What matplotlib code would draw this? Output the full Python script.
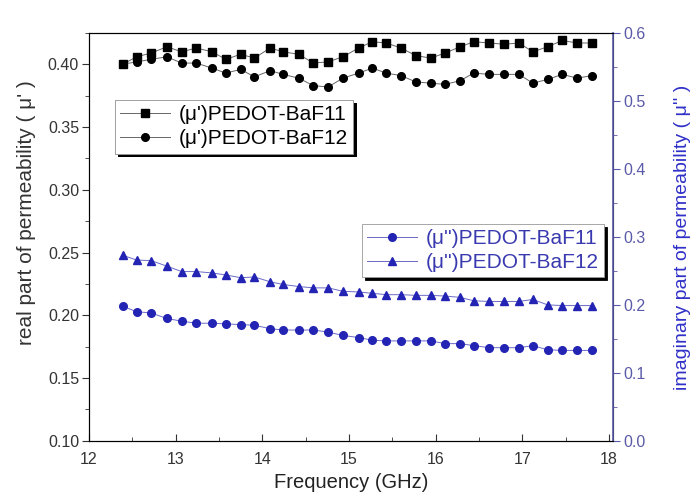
import matplotlib
matplotlib.use('Agg')
import matplotlib.pyplot as plt
from matplotlib.ticker import MultipleLocator, FormatStrFormatter

plt.rcParams['font.family'] = ['Liberation Sans', 'DejaVu Sans']

# frequency grid (GHz)
freq = [12.39, 12.55, 12.72, 12.90, 13.07, 13.24, 13.42, 13.58, 13.75, 13.91,
        14.09, 14.24, 14.42, 14.59, 14.76, 14.93, 15.11, 15.27, 15.43, 15.60,
        15.77, 15.94, 16.11, 16.28, 16.44, 16.62, 16.79, 16.96, 17.12, 17.29,
        17.46, 17.63, 17.80]

# real part (left axis)
re_baf11 = [0.400, 0.406, 0.409, 0.414, 0.410, 0.413, 0.410, 0.404, 0.408, 0.405,
            0.413, 0.410, 0.408, 0.401, 0.402, 0.406, 0.413, 0.418, 0.417, 0.413,
            0.407, 0.405, 0.409, 0.414, 0.418, 0.417, 0.416, 0.417, 0.410, 0.414,
            0.419, 0.417, 0.417]
re_baf12 = [0.400, 0.402, 0.404, 0.406, 0.401, 0.401, 0.397, 0.393, 0.396, 0.390,
            0.395, 0.392, 0.389, 0.383, 0.382, 0.389, 0.393, 0.397, 0.393, 0.391,
            0.386, 0.385, 0.384, 0.387, 0.393, 0.392, 0.392, 0.392, 0.385, 0.388,
            0.392, 0.389, 0.391]

# imaginary part (right axis)
im_baf11 = [0.198, 0.190, 0.188, 0.180, 0.176, 0.173, 0.173, 0.172, 0.171, 0.170,
            0.165, 0.163, 0.163, 0.163, 0.160, 0.155, 0.152, 0.148, 0.147, 0.147,
            0.147, 0.147, 0.143, 0.143, 0.140, 0.137, 0.137, 0.137, 0.140, 0.134,
            0.133, 0.133, 0.133]
im_baf12 = [0.273, 0.266, 0.265, 0.257, 0.249, 0.249, 0.247, 0.244, 0.240, 0.241,
            0.234, 0.230, 0.227, 0.225, 0.225, 0.220, 0.219, 0.217, 0.215, 0.215,
            0.214, 0.214, 0.213, 0.211, 0.206, 0.205, 0.205, 0.205, 0.208, 0.200,
            0.199, 0.199, 0.199]

blue = '#2323b4'
axblue = '#5a5aa8'

fig = plt.figure(figsize=(6.94, 4.92), dpi=100)
ax = fig.add_axes([0.128, 0.104, 0.756, 0.829])
ax2 = ax.twinx()

l1, = ax.plot(freq, re_baf11, '-s', color='#666666', lw=0.7, ms=5.5,
              mfc='black', mec='black', label="(\u03bc')PEDOT-BaF11")
l2, = ax.plot(freq, re_baf12, '-o', color='#666666', lw=0.7, ms=5.5,
              mfc='black', mec='black', label="(\u03bc')PEDOT-BaF12")
l3, = ax2.plot(freq, im_baf11, '-o', color='#6a6ac8', lw=0.7, ms=5.5,
               mfc=blue, mec=blue, label="(\u03bc'')PEDOT-BaF11")
l4, = ax2.plot(freq, im_baf12, '-^', color='#6a6ac8', lw=0.7, ms=5.5,
               mfc=blue, mec=blue, label="(\u03bc'')PEDOT-BaF12")

ax.set_xlim(12, 18.05)
ax.set_ylim(0.10, 0.425)
ax2.set_ylim(0.0, 0.6)

ax.xaxis.set_major_locator(MultipleLocator(1))
ax.xaxis.set_minor_locator(MultipleLocator(0.5))
ax.yaxis.set_major_locator(MultipleLocator(0.05))
ax.yaxis.set_minor_locator(MultipleLocator(0.025))
ax2.yaxis.set_major_locator(MultipleLocator(0.1))
ax2.yaxis.set_minor_locator(MultipleLocator(0.05))
ax.yaxis.set_major_formatter(FormatStrFormatter('%.2f'))
ax2.yaxis.set_major_formatter(FormatStrFormatter('%.1f'))

ax.tick_params(axis='x', direction='in', which='both', labelsize=11.5,
               colors='#333333', pad=8)
ax.tick_params(axis='x', which='major', length=5)
ax.tick_params(axis='x', which='minor', length=3)
ax.tick_params(axis='y', direction='out', which='both', labelsize=11.5,
               colors='#333333', pad=2)
ax.tick_params(axis='y', which='major', length=5)
ax.tick_params(axis='y', which='minor', length=3)
ax2.tick_params(axis='y', direction='out', which='both', labelsize=11.5,
                colors=axblue, pad=2)
ax2.tick_params(axis='y', which='major', length=5)
ax2.tick_params(axis='y', which='minor', length=3)

for s in ['left', 'bottom', 'top']:
    ax.spines[s].set_color('#222222')
ax2.spines['right'].set_color(axblue)
ax2.spines['right'].set_linewidth(1.2)

ax.set_xlabel('Frequency (GHz)', fontsize=14.5, color='#222222')
ax.xaxis.set_label_coords(0.5, -0.08)
ax.set_ylabel("real part of permeability ( \u03bc' )", fontsize=15, color='#333333')
ax.yaxis.set_label_coords(-0.1, 0.56)
ax2.set_ylabel("imaginary part of permeability ( \u03bc'' )", fontsize=14,
               color='#3030c8')
ax2.yaxis.set_label_coords(1.115, 0.5)

shadow = {'color': 'black', 'alpha': 1.0}
leg1 = ax.legend(handles=[l1, l2], loc='upper left', bbox_to_anchor=(0.166, 0.797),
                 bbox_transform=fig.transFigure, borderaxespad=0,
                 fontsize=15, frameon=True, fancybox=False, shadow=shadow,
                 framealpha=1, edgecolor='#999999', handlelength=2.4,
                 labelspacing=0.25, borderpad=0.25, handletextpad=0.4)
leg1.get_frame().set_linewidth(0.6)
ax.add_artist(leg1)

leg2 = ax2.legend(handles=[l3, l4], loc='upper left', bbox_to_anchor=(0.522, 0.545),
                  bbox_transform=fig.transFigure, borderaxespad=0,
                  fontsize=15, frameon=True, fancybox=False, shadow=shadow,
                  framealpha=1, edgecolor='#999999', handlelength=2.4,
                  labelspacing=0.25, borderpad=0.25, handletextpad=0.4)
leg2.get_frame().set_linewidth(0.6)
for t in leg2.get_texts():
    t.set_color('#3a3ab0')

fig.savefig('out.png', dpi=100)
